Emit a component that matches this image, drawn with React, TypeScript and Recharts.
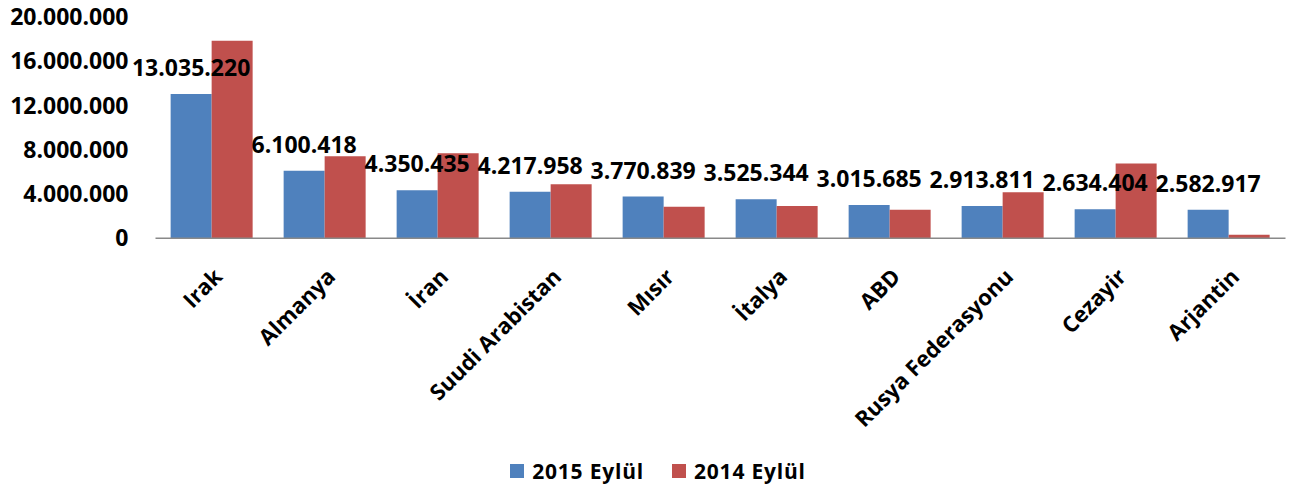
import React from 'react';
import { BarChart, Bar, XAxis, YAxis, Legend, LabelList } from 'recharts';

const categories = ['Irak', 'Almanya', 'İran', 'Suudi Arabistan', 'Mısır', 'İtalya', 'ABD', 'Rusya Federasyonu', 'Cezayir', 'Arjantin'];
const values2015 = [13035220, 6100418, 4350435, 4217958, 3770839, 3525344, 3015685, 2913811, 2634404, 2582917];
const values2014 = [17850000, 7410000, 7680000, 4880000, 2860000, 2920000, 2590000, 4160000, 6750000, 330000];
const yTicks = [0, 4000000, 8000000, 12000000, 16000000, 20000000];
const seriesNames = ['2015 Eylül', '2014 Eylül'];
const colors = ['#4F81BD', '#C0504D'];

const data = categories.map((c, i) => ({ name: c, v2015: values2015[i], v2014: values2014[i] }));

const FONT = "'Open Sans', sans-serif";
const fmt = (v: any) => String(Math.round(Number(v))).replace(/\B(?=(\d{3})+(?!\d))/g, '.');

const CatTick = (props: any) => {
  const { x, y, payload } = props;
  return (
    <g transform={`translate(${x},${y})`}>
      <text
        transform="rotate(-45)"
        textAnchor="end"
        dx={-3}
        dy={19.5}
        fontFamily={FONT}
        fontWeight={700}
        fontSize={22}
        fill="#000"
      >
        {payload.value}
      </text>
    </g>
  );
};

const LegendContent = () => (
  <div
    style={{
      display: 'flex',
      justifyContent: 'center',
      alignItems: 'center',
      height: 30,
      marginLeft: 4,
      fontFamily: FONT,
      fontWeight: 700,
      fontSize: 21,
      letterSpacing: 0.8,
      color: '#000',
    }}
  >
    {seriesNames.map((name, i) => (
      <div key={name} style={{ display: 'flex', alignItems: 'center', marginRight: i === 0 ? 28 : 0 }}>
        <span style={{ display: 'inline-block', width: 14, height: 14, background: colors[i], marginRight: 8 }} />
        <span style={{ whiteSpace: 'nowrap' }}>{name}</span>
      </div>
    ))}
  </div>
);

export default function App() {
  return (
    <BarChart
      width={1296}
      height={482}
      data={data}
      margin={{ top: 9, right: 18.5, left: 0, bottom: 4 }}
      barCategoryGap="13.4%"
      barGap={0}
      style={{ overflow: 'visible' }}
    >
      <XAxis
        dataKey="name"
        interval={0}
        height={217.7}
        tickSize={0}
        tickMargin={24}
        tickLine={false}
        axisLine={{ stroke: '#898989', strokeWidth: 1.5 }}
        tick={<CatTick />}
      />
      <YAxis
        width={147.5}
        domain={[0, 20000000]}
        ticks={yTicks}
        interval={0}
        tickFormatter={fmt}
        axisLine={false}
        tickLine={false}
        tickSize={0}
        tickMargin={27}
        tick={{ fill: '#000', fontSize: 23, fontWeight: 700, fontFamily: FONT }}
      />
      <Legend
        verticalAlign="bottom"
        content={<LegendContent />}
        wrapperStyle={{ left: 0, width: 1296 }}
      />
      <Bar dataKey="v2015" name={seriesNames[0]} fill={colors[0]} isAnimationActive={false}>
        <LabelList
          dataKey="v2015"
          position="top"
          offset={18}
          formatter={fmt}
          style={{ fill: '#000', fontSize: 23, fontWeight: 700, fontFamily: FONT }}
        />
      </Bar>
      <Bar dataKey="v2014" name={seriesNames[1]} fill={colors[1]} isAnimationActive={false} />
    </BarChart>
  );
}
